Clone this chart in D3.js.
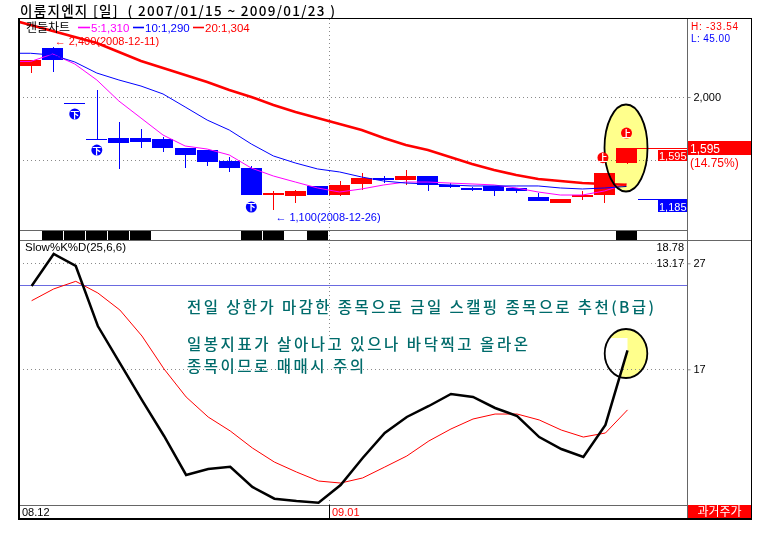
<!DOCTYPE html>
<html><head><meta charset="utf-8">
<script src="https://cdn.jsdelivr.net/npm/d3@7"></script>
<style>
html,body{margin:0;padding:0;background:#fff}
svg{display:block}
text{font-family:"Liberation Sans","Noto Sans CJK KR",sans-serif;font-size:11px}
</style></head><body>
<svg id="c" width="772" height="540"></svg>
<script>
const prevDate="12-09";
const dates=["12-10","12-11","12-12","12-15","12-16","12-17","12-18","12-19","12-22","12-23","12-24","12-26","12-29","12-30","01-02","01-05","01-06","01-07","01-08","01-09","01-12","01-13","01-14","01-15","01-16","01-19","01-20","01-21"];
const opens =[2246,2389,1950,1664,1672,1675,1664,1595,1579,1492,1434,1225,1217,1294,1222,1310,1357,1341,1373,1302,1278,1294,1278,1206,1159,1206,1225,1476];
const closes=[2294,2294,1950,1664,1637,1643,1598,1542,1486,1439,1225,1238,1254,1222,1302,1355,1341,1373,1302,1286,1262,1254,1254,1175,1190,1222,1397,1595];
const highs =[2294,2400,1950,2056,1802,1746,1680,1595,1579,1526,1452,1254,1262,1294,1333,1397,1373,1421,1373,1315,1288,1294,1278,1240,1190,1254,1397,1595];
const lows  =[2194,2198,1950,1664,1431,1598,1566,1439,1455,1407,1225,1100,1161,1222,1214,1262,1320,1302,1254,1278,1254,1214,1238,1175,1159,1183,1161,1468];
// moving averages begin one session before the first candle (cut by the frame)
const ma5 =[2282,2282,2341,2262,2135,1968,1833,1698,1611,1587,1540,1436,1373,1325,1278,1246,1270,1302,1325,1325,1317,1310,1302,1278,1246,1222,1222,1254,1310];
const ma10=[2347,2347,2333,2278,2190,2135,2087,2024,1921,1817,1738,1627,1532,1476,1429,1405,1365,1333,1317,1310,1302,1294,1294,1294,1294,1278,1270,1278,1290];
const ma20=[2619,2571,2524,2476,2429,2357,2286,2230,2175,2119,2056,2000,1937,1881,1833,1786,1738,1675,1619,1579,1524,1468,1421,1381,1349,1333,1318,1310,1304];
const slowK=[24.86,27.88,26.75,21.08,17.59,14.10,10.71,7.03,7.59,7.81,5.90,4.79,4.58,4.42,6.08,8.63,10.99,12.50,13.54,14.67,14.39,13.35,12.59,10.61,9.48,8.73,11.75,18.78];
const slowD=[23.47,24.58,25.30,24.20,22.59,20.14,17.03,14.39,12.50,11.18,9.58,8.25,7.31,6.46,6.27,6.75,7.78,8.82,10.24,11.37,12.31,12.78,12.78,12.22,11.27,10.61,10.99,13.17];
const volumeFlagDates=["12-11","12-12","12-15","12-16","12-17","12-24","12-26","12-30","01-21"];
const upMarkDates=["01-20","01-21"];
const downMarkDates=["12-12","12-15","12-24"];
const markDate=["01-20","01-21","12-12","12-15","12-24"];
const markPrice=[1518,1714,1865,1579,1127];
const priceTicks=[2000];
const priceGrid=[2000,1500];
const stochTicks=[27,17];

const RED="#ff0000",BLUE="#0000ff",MAG="#ff00ff",GRAY="#666666",DOT="#8a8a8a",TEAL="#006b6b";
const svg=d3.select("#c");
const allDates=[prevDate,...dates];
const x=d3.scaleBand().domain(allDates).range([-2.04,637.1]).paddingInner(0.04);
const bw=x.bandwidth();
const cx=d=>x(d)+bw/2;
const y=d3.scaleLinear().domain([2000,1500]).range([97,160]);
const ys=d3.scaleLinear().domain([27,17]).range([263.3,369.3]);
const LEFT=19,AXX=687.5,RIGHT=751,TOP=19,BOT=519;
const hLine=(g,yy)=>g.append("line").attr("x1",LEFT).attr("x2",AXX).attr("y1",Math.round(yy)+.5).attr("y2",Math.round(yy)+.5);
const dotG=()=>svg.append("g").attr("stroke",DOT).attr("stroke-dasharray","1 3").attr("shape-rendering","crispEdges");

svg.append("clipPath").attr("id","pane").append("rect").attr("x",LEFT).attr("y",TOP).attr("width",AXX-LEFT).attr("height",BOT-TOP);

// grid
const grid=dotG();
priceGrid.forEach(v=>hLine(grid,y(v)));
const vx=Math.floor(x("01-02"))+.5;
grid.append("line").attr("x1",vx).attr("x2",vx).attr("y1",TOP).attr("y2",337);
grid.append("line").attr("x1",vx).attr("x2",vx).attr("y1",500).attr("y2",505);
// 25 level
hLine(svg,ys(25)).attr("stroke","#6a6ae0");

// candles
const cdl=svg.append("g").attr("shape-rendering","crispEdges");
dates.forEach((d,i)=>{
  const col=closes[i]>opens[i]?RED:BLUE;
  const c=Math.round(cx(d))+.5;
  cdl.append("line").attr("x1",c).attr("x2",c).attr("y1",y(highs[i])).attr("y2",y(lows[i])).attr("stroke",col);
  const t=y(Math.max(opens[i],closes[i])),b=y(Math.min(opens[i],closes[i]));
  cdl.append("rect").attr("x",Math.round(x(d))).attr("width",Math.round(bw)).attr("y",t).attr("height",Math.max(b-t,1)).attr("fill",col);
});
// price level lines
const lastD=dates[dates.length-1];
const lvl=svg.append("g").attr("shape-rendering","crispEdges");
lvl.append("line").attr("x1",x(lastD)+bw).attr("x2",AXX).attr("y1",y(1595)).attr("y2",y(1595)).attr("stroke",RED);
lvl.append("line").attr("x1",x(lastD)+bw+1).attr("x2",AXX).attr("y1",y(1185)).attr("y2",y(1185)).attr("stroke",BLUE);
lvl.append("rect").attr("x",658).attr("y",y(1595)+2).attr("width",29).attr("height",11).attr("fill",RED);
lvl.append("rect").attr("x",658).attr("y",y(1185)+.5).attr("width",29).attr("height",12).attr("fill",BLUE);
svg.append("text").attr("x",659).attr("y",y(1595)+12).attr("fill","#fff").text("1,595");
svg.append("text").attr("x",659).attr("y",y(1185)+11).attr("fill","#fff").text("1,185");

// moving averages
const maLine=d3.line().x((v,i)=>cx(allDates[i])).y(v=>y(v));
const maG=svg.append("g").attr("clip-path","url(#pane)").attr("fill","none");
maG.append("path").attr("d",maLine(ma5)).attr("stroke",MAG).attr("stroke-width",1);
maG.append("path").attr("d",maLine(ma10)).attr("stroke",BLUE).attr("stroke-width",1);
maG.append("path").attr("d",maLine(ma20)).attr("stroke",RED).attr("stroke-width",2.6);

// price highlight ellipse
svg.append("ellipse").attr("cx",626).attr("cy",148).attr("rx",21.5).attr("ry",43.5)
  .attr("fill","#ffff8c").attr("stroke","#000").attr("stroke-width",1.8).style("mix-blend-mode","multiply");

// limit markers
function marker(d,col,glyph){
  const g=svg.append("g").attr("transform",`translate(${cx(d)-(d==="01-20"?1.5:0)},${y(markPrice[markDate.indexOf(d)])})`);
  g.append("circle").attr("r",5.5).attr("fill",col);
  g.append("text").attr("text-anchor","middle").attr("y",3.5).attr("fill","#fff").style("font-size","9px").style("font-family",'"Noto Sans CJK KR",sans-serif').attr("font-weight","bold").text(glyph);
}
upMarkDates.forEach(d=>marker(d,RED,"上"));
downMarkDates.forEach(d=>marker(d,BLUE,"下"));

// flags strip
svg.append("g").attr("shape-rendering","crispEdges").selectAll("rect").data(volumeFlagDates).join("rect")
  .attr("x",d=>Math.round(x(d))).attr("width",Math.round(bw)).attr("y",231).attr("height",9.5).attr("fill","#000");

// stochastic highlight
const clip=svg.append("clipPath").attr("id","ec");
clip.append("ellipse").attr("cx",626).attr("cy",353.5).attr("rx",21.3).attr("ry",24.5);
svg.append("ellipse").attr("cx",626).attr("cy",353.5).attr("rx",21.3).attr("ry",24.5).attr("fill","#ffff8c");
const kx=cx(lastD)+1,ky=ys(slowK[27]);
svg.append("path").attr("clip-path","url(#ec)").attr("fill","#fff")
  .attr("d",`M600,338H${kx}V${ky}L${cx(dates[26])+1},${ys(slowK[26])}H600Z`);
svg.append("ellipse").attr("cx",626).attr("cy",353.5).attr("rx",21.3).attr("ry",24.5).attr("fill","none").attr("stroke","#000").attr("stroke-width",1.8);
const grid2=dotG();
stochTicks.forEach(v=>hLine(grid2,ys(v)));

// stochastic lines
const stLine=d3.line().x((v,i)=>cx(dates[i])+1).y(v=>ys(v));
svg.append("path").attr("d",stLine(slowD)).attr("fill","none").attr("stroke",RED).attr("stroke-width",1);
svg.append("path").attr("d",stLine(slowK)).attr("fill","none").attr("stroke","#000").attr("stroke-width",2.5);

// axes
const ax1=svg.append("g").attr("transform",`translate(${AXX},0)`).call(d3.axisRight(y).tickValues(priceTicks).tickSize(3).tickFormat(d3.format(",")));
const ax2=svg.append("g").attr("transform",`translate(${AXX},0)`).call(d3.axisRight(ys).tickValues(stochTicks).tickSize(3));
[ax1,ax2].forEach(a=>{a.select(".domain").remove();a.selectAll("line").attr("stroke",DOT);a.selectAll("text").attr("x",6).attr("fill","#000").style("font-size","11px").style("font-family",'"Liberation Sans",sans-serif');});

// frame and separators
const fr=svg.append("g").attr("shape-rendering","crispEdges");
[[LEFT,230.5,AXX,230.5],[LEFT,240.5,RIGHT,240.5],[LEFT,505.5,AXX,505.5],[AXX,TOP,AXX,BOT]].forEach(l=>fr.append("line").attr("x1",l[0]).attr("y1",l[1]).attr("x2",l[2]).attr("y2",l[3]).attr("stroke",GRAY));
fr.append("line").attr("x1",vx).attr("x2",vx).attr("y1",505).attr("y2",BOT).attr("stroke","#000");
fr.append("rect").attr("x",688).attr("y",505).attr("width",63).attr("height",14).attr("fill",RED);
fr.append("rect").attr("x",688).attr("y",141).attr("width",63).attr("height",14).attr("fill",RED);
fr.append("rect").attr("x",LEFT).attr("y",TOP-.5).attr("width",RIGHT-LEFT+.5).attr("height",BOT-TOP+.5).attr("fill","none").attr("stroke","#000").attr("stroke-width",1.6);

// texts
const T=(s,xx,yy,col,size,anchor,extra)=>{const t=svg.append("text").attr("x",xx).attr("y",yy).attr("fill",col).attr("text-anchor",anchor||"start").text(s);t.style("font-size",size+"px");if(extra)extra(t);return t;};
const ko=t=>t.style("font-family",'"Noto Sans CJK KR",sans-serif');
T("이룸지엔지 [일]  ( 2007/01/15 ~ 2009/01/23 )",20,15.5,"#000",13.5,"start",t=>ko(t).style("white-space","pre").style("font-weight",500).attr("textLength",315));
T("캔들차트",26,32,"#000",12,"start",ko);
const legend=[["5:1,310",MAG,78,91],["10:1,290",BLUE,133,145],["20:1,304",RED,193,205]];
legend.forEach(l=>{
  svg.append("line").attr("x1",l[2]).attr("x2",l[3]-1).attr("y1",27.5).attr("y2",27.5).attr("stroke",l[1]).attr("stroke-width",1.6);
  T(l[0],l[3],32,l[1],11.5);
});
T("← 2,400(2008-12-11)",cx("12-11")+2,45,RED,11);
T("← 1,100(2008-12-26)",cx("12-26")+2,221,BLUE,11);
T("H: -33.54",691,30,RED,10,"start",t=>t.attr("textLength",47));
T("L: 45.00",691,41.5,BLUE,10,"start",t=>t.attr("textLength",39));
T("1,595",690,153,"#fff",12);
T("(14.75%)",690,167,RED,12);
T("18.78",684,251,"#000",11,"end");
T("13.17",684,267,"#000",11,"end");
T("Slow%K%D(25,6,6)",25,251,"#000",11.5);
T("08.12",22,516,"#000",11);
T("09.01",332,516,RED,11);
T("과거주가",719.5,516,"#fff",12,"middle",ko);
const noteText=["전일 상한가 마감한 종목으로 금일 스캘핑 종목으로 추천(B급)","일봉지표가 살아나고 있으나 바닥찍고 올라온","종목이므로 매매시 주의"];
const noteBase=[313,350,371.5];
const noteWidth=[467,341,177];
noteText.forEach((s,i)=>T(s,187,noteBase[i],TEAL,15.5,"start",t=>ko(t).style("font-weight",500).attr("textLength",noteWidth[i])));
</script>
</body></html>
